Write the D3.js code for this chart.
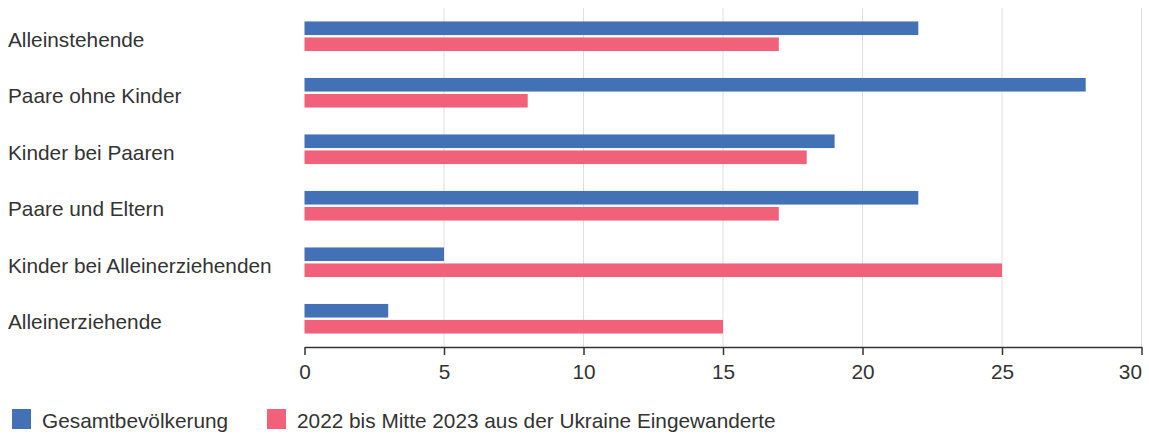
<!DOCTYPE html>
<html>
<head>
<meta charset="utf-8">
<script src="https://cdn.jsdelivr.net/npm/d3@7"></script>
<style>
  html, body { margin: 0; padding: 0; background: #fff; }
  svg { display: block; font-family: "Liberation Sans", Arial, sans-serif; }
</style>
</head>
<body>
<svg id="chart" width="1149" height="435"></svg>
<script>
// Haushaltsformen, Anteile in %
const categories = [
  "Alleinstehende",
  "Paare ohne Kinder",
  "Kinder bei Paaren",
  "Paare und Eltern",
  "Kinder bei Alleinerziehenden",
  "Alleinerziehende"
];
const seriesNames = ["Gesamtbevölkerung", "2022 bis Mitte 2023 aus der Ukraine Eingewanderte"];
const gesamt = [22, 28, 19, 22, 5, 3];
const ukraine = [17, 8, 18, 17, 25, 15];
const xTicks = [0, 5, 10, 15, 20, 25, 30];
const colors = ["#4271b6", "#f1627a"];

const svg = d3.select("#chart");
const margin = { top: 8, left: 304.5, right: 7.5, bottom: 88 };
const W = 1149, H = 435;
const plotBottom = H - margin.bottom; // 347
const fontSize = 20.8;
const textColor = "#333";

const x = d3.scaleLinear().domain([0, 30]).range([margin.left, W - margin.right]);
const y = d3.scaleBand().domain(categories).range([margin.top, plotBottom]).paddingInner(0).paddingOuter(0);

const bandH = y.bandwidth();
const barH = 13.6, barGap = 2.4;

// vertical grid
svg.append("g")
  .selectAll("line")
  .data(xTicks.slice(1))
  .join("line")
  .attr("x1", d => x(d)).attr("x2", d => x(d))
  .attr("y1", margin.top).attr("y2", plotBottom)
  .attr("stroke", "#dedede").attr("stroke-width", 1);

// bars: one pair per category
const series = [gesamt, ukraine];
const groups = svg.append("g")
  .selectAll("g")
  .data(categories)
  .join("g")
  .attr("transform", c => `translate(0,${y(c) + bandH / 2 - barH - barGap / 2})`);

groups.each(function(c, i) {
  d3.select(this).selectAll("rect")
    .data(series.map((s, k) => ({ k, v: s[i] })))
    .join("rect")
    .attr("x", x(0))
    .attr("y", d => d.k * (barH + barGap))
    .attr("width", d => x(d.v) - x(0))
    .attr("height", barH)
    .attr("fill", d => colors[d.k]);
});

// category labels
svg.append("g")
  .selectAll("text")
  .data(categories)
  .join("text")
  .attr("x", 8)
  .attr("y", c => y(c) + bandH / 2 + 3)
  .attr("dominant-baseline", "central")
  .attr("font-size", fontSize)
  .attr("fill", textColor)
  .text(c => c);

// x axis
const xAxis = svg.append("g")
  .attr("transform", `translate(0,${plotBottom})`)
  .call(d3.axisBottom(x).tickValues(xTicks).tickSize(8).tickPadding(9).tickSizeOuter(0));
xAxis.select(".domain").attr("stroke", textColor).attr("stroke-width", 1.5);
xAxis.selectAll(".tick line").attr("stroke", textColor).attr("stroke-width", 1.5);
xAxis.selectAll(".tick text")
  .attr("font-size", fontSize)
  .attr("fill", textColor)
  .attr("font-family", "Liberation Sans, Arial, sans-serif")
  .attr("text-anchor", d => d === xTicks[xTicks.length - 1] ? "end" : "middle")
  .attr("dx", d => d === xTicks[xTicks.length - 1] ? 0 : null);

// legend
const legendX = [12, 267];
const legend = svg.append("g")
  .selectAll("g")
  .data(seriesNames)
  .join("g")
  .attr("transform", (d, i) => `translate(${legendX[i]},409)`);
legend.append("rect")
  .attr("width", 19).attr("height", 20)
  .attr("fill", (d, i) => colors[i]);
legend.append("text")
  .attr("x", 30).attr("y", 11)
  .attr("dominant-baseline", "central")
  .attr("font-size", fontSize)
  .attr("fill", textColor)
  .text(d => d);
</script>
</body>
</html>
